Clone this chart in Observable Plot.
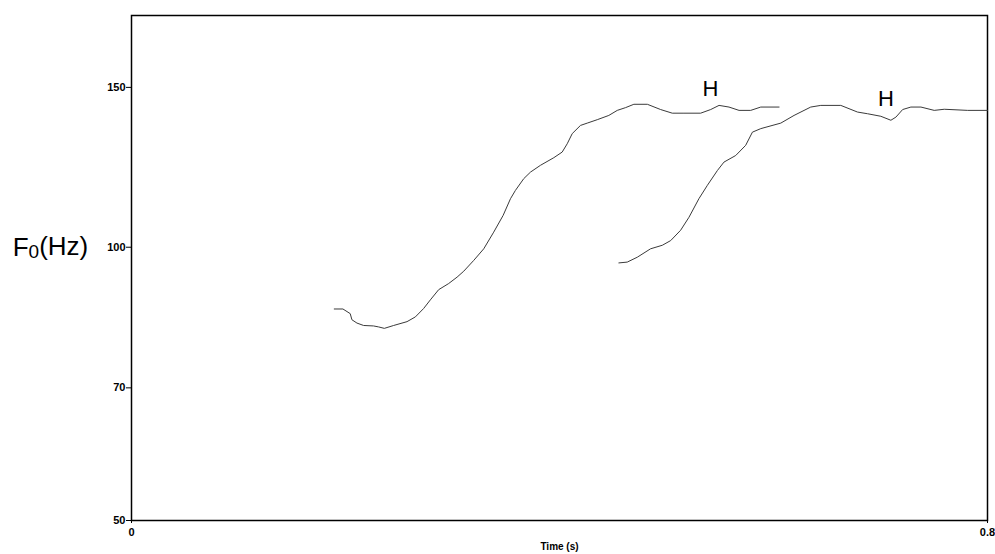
<!DOCTYPE html>
<html><head><meta charset="utf-8">
<script src="https://cdn.jsdelivr.net/npm/d3@7"></script>
<script src="https://cdn.jsdelivr.net/npm/@observablehq/plot@0.6"></script>
<style>body{margin:0;background:#fff;}</style>
</head><body><div id="chart"></div>
<script>
// Contour 1 (time in s, F0 in Hz)
const time1 = [0.1895,0.1976,0.2044,0.2060,0.2107,0.2169,0.2262,0.2309,0.2363,0.2450,0.2575,0.2653,0.2730,0.2793,0.2871,0.2964,0.3043,0.3105,0.3198,0.3292,0.3385,0.3473,0.3542,0.3588,0.3666,0.3729,0.3822,0.3947,0.4025,0.4072,0.4119,0.4196,0.4259,0.4353,0.4461,0.4540,0.4618,0.4695,0.4821,0.4945,0.5054,0.5163,0.5319,0.5413,0.5491,0.5584,0.5678,0.5787,0.5881,0.6052];
const f0_1  = [85.5,85.5,84.5,83.2,82.5,82.0,81.9,81.7,81.4,82.0,82.8,83.8,85.6,87.5,89.8,91.2,92.7,94.1,96.7,99.6,103.9,108.4,113.1,115.5,119.0,121.0,123.1,125.5,127.3,130.0,133.4,136.2,137.0,138.2,139.7,141.5,142.5,143.7,143.7,141.8,140.5,140.5,140.5,141.8,143.3,142.7,141.5,141.5,142.7,142.7];
// Contour 2
const time2 = [0.4555,0.4633,0.4727,0.4851,0.4961,0.5039,0.5132,0.5210,0.5303,0.5382,0.5476,0.5537,0.5647,0.5740,0.5803,0.5881,0.6068,0.6192,0.6348,0.6442,0.6629,0.6785,0.6879,0.7003,0.7097,0.7144,0.7207,0.7284,0.7378,0.7502,0.7596,0.7815,0.8000];
const f0_2  = [96.1,96.3,97.5,99.6,100.5,101.7,104.4,107.9,113.1,117.0,121.5,124.1,126.2,129.5,133.9,135.1,137.0,139.7,142.7,143.3,143.3,140.9,140.3,139.4,138.0,139.1,141.8,142.7,142.7,141.5,141.9,141.5,141.5];
// Annotations
const toneLabels = ["H","H"];
const toneTime = [0.541,0.705];
const toneF0 = [149.3,145.6];
// Axes
const yTicks = [50,70,100,150];
const xTicks = [0,0.8];
const xTickLabels = ["0","0.8"];
const yDomain = [50,180];
const xDomain = [0,0.8];

const contours = [
  ...time1.map((t,i)=>({series:"1", t, f:f0_1[i]})),
  ...time2.map((t,i)=>({series:"2", t, f:f0_2[i]}))
];
const tones = toneLabels.map((s,i)=>({s, t:toneTime[i], f:toneF0[i]}));

const plot = Plot.plot({
  width: 995, height: 554,
  marginLeft: 131, marginRight: 8, marginTop: 15, marginBottom: 34,
  style: {fontFamily: "'Liberation Sans', Arial, sans-serif", fontSize: "11px", background: "#fff", color: "#000"},
  x: {domain: xDomain},
  y: {type: "log", domain: yDomain},
  marks: [
    Plot.frame({stroke: "#000", strokeWidth: 1.5}),
    Plot.axisY({ticks: yTicks, tickFormat: d => String(d), tickSize: 5, tickPadding: 1, fontSize: 11, fontWeight: "bold", label: null}),
    Plot.axisX({ticks: xTicks, tickFormat: (d) => xTickLabels[xTicks.indexOf(d)], tickSize: 3, tickPadding: 5, fontSize: 11, fontWeight: "bold", label: null}),
    Plot.text(["Time (s)"], {frameAnchor: "bottom", dy: 29, text: d => d, fontSize: 10, fontWeight: "bold"}),
    Plot.line(contours, {x: "t", y: "f", z: "series", stroke: "#3a3a3a", strokeWidth: 1}),
    Plot.text(tones, {x: "t", y: "f", text: "s", fontSize: 22}),
    Plot.text(["F0(Hz)"], {x: 0, y: 100, dx: -81, text: d => d, fontSize: 26, textAnchor: "middle"})
  ]
});
document.getElementById("chart").appendChild(plot);

// Render the subscript in the y-axis label
d3.select(plot).selectAll("text").filter(function(){ return this.textContent === "F0(Hz)"; }).each(function(){
  const t = d3.select(this);
  t.text(null);
  t.append("tspan").text("F");
  t.append("tspan").attr("font-size", 19).attr("dy", "0.12em").text("0");
  t.append("tspan").attr("dy", "-0.12em").text("(Hz)");
});
</script>
</body></html>
